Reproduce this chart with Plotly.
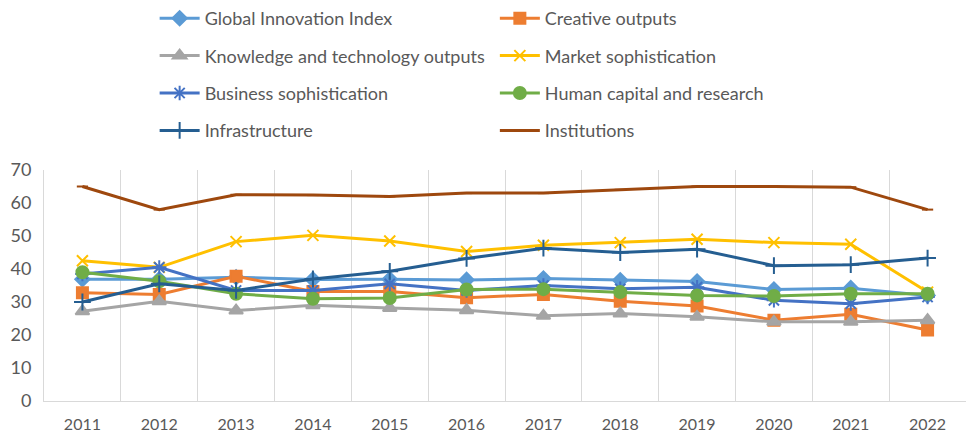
import plotly.graph_objects as go

years = list(range(2011, 2023))

gii = [36.9, 36.9, 37.5, 36.8, 36.9, 36.7, 37.1, 36.6, 36.2, 33.8, 34.2, 32.0]
creative = [32.8, 32.3, 37.8, 33.2, 33.2, 31.3, 32.3, 30.2, 28.8, 24.5, 26.3, 21.5]
knowledge = [27.2, 30.2, 27.4, 29.0, 28.2, 27.5, 25.8, 26.5, 25.5, 24.0, 24.0, 24.5]
market = [42.5, 40.5, 48.3, 50.2, 48.5, 45.3, 47.2, 48.0, 49.0, 48.0, 47.5, 33.0]
business = [38.5, 40.5, 33.5, 33.5, 35.5, 33.5, 35.0, 34.0, 34.5, 30.5, 29.5, 31.5]
human = [39.0, 36.3, 32.5, 31.0, 31.2, 33.8, 33.9, 33.0, 32.0, 31.8, 32.5, 32.5]
infra = [30.0, 35.5, 33.5, 37.0, 39.3, 43.2, 46.3, 45.0, 46.0, 41.0, 41.3, 43.3]
institutions = [65.0, 58.0, 62.5, 62.4, 62.0, 63.0, 63.0, 64.0, 65.0, 65.0, 64.8, 58.0]

series = [
    ("Global Innovation Index", gii, "#5B9BD5", "diamond", 11, "legend"),
    ("Creative outputs", creative, "#ED7D31", "square", 11, "legend2"),
    ("Knowledge and technology outputs", knowledge, "#A5A5A5", "triangle-up", 12, "legend"),
    ("Market sophistication", market, "#FFC000", "x-thin", 11, "legend2"),
    ("Business sophistication", business, "#4472C4", "asterisk", 12, "legend"),
    ("Human capital and research", human, "#70AD47", "circle", 12, "legend2"),
    ("Infrastructure", infra, "#255E91", "cross-thin", 12, "legend"),
    ("Institutions", institutions, "#9E480E", "line-ew", 8, "legend2"),
]

fig = go.Figure()
for i, (name, vals, color, sym, size, lg) in enumerate(series):
    fig.add_trace(go.Scatter(
        x=years, y=vals, name=name, mode="lines+markers",
        line=dict(color=color, width=3),
        marker=dict(symbol=sym, size=size, color=color,
                    line=dict(color=color, width=2)),
        legend=lg, legendgroup=name,
    ))

FONT = "Lato, Liberation Sans, Arial"

legend_common = dict(
    orientation="v", yanchor="top", yref="container", y=1.0,
    font=dict(family=FONT, size=18, color="#595959"),
    tracegroupgap=11, bgcolor="rgba(0,0,0,0)", itemwidth=40,
)

fig.update_layout(
    width=971, height=432,
    margin=dict(l=44, r=5, t=170, b=31),
    paper_bgcolor="white", plot_bgcolor="white",
    font=dict(family=FONT, color="#595959"),
    legend=dict(x=0.12, xanchor="left", **legend_common),
    legend2=dict(x=0.489, xanchor="left", **legend_common),
    xaxis=dict(
        range=[2010.5, 2022.5], tickvals=years, ticktext=[str(y) for y in years],
        showgrid=False, showline=True, linecolor="#D9D9D9", linewidth=1,
        ticks="", tickfont=dict(family=FONT, size=16, color="#595959"),
        ticklabelstandoff=9, automargin=False,
        minor=dict(tickvals=[y + 0.5 for y in range(2010, 2023)], showgrid=True,
                   gridcolor="#D9D9D9", gridwidth=1),
        zeroline=False,
    ),
    yaxis=dict(
        range=[0, 70], dtick=10, showgrid=False, showline=True,
        linecolor="#D9D9D9", linewidth=1, ticks="", automargin=False,
        tickfont=dict(family=FONT, size=18, color="#595959"), zeroline=False,
        ticklabelstandoff=8,
    ),
)

fig.write_html("out.html", config={"displayModeBar": False},
               post_script="document.body.style.margin='0';")
